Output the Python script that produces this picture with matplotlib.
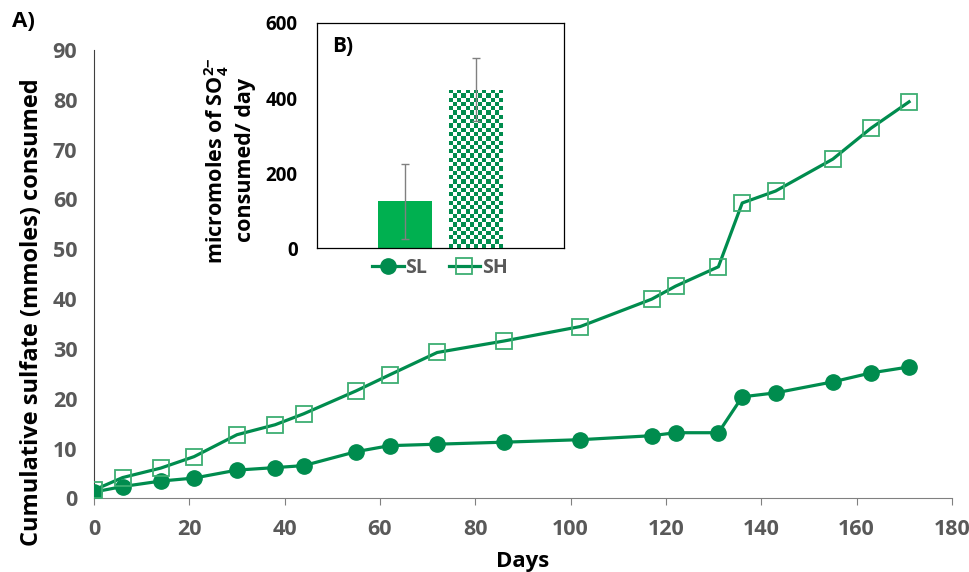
import matplotlib
matplotlib.use("Agg")
import matplotlib.pyplot as plt
import numpy as np
from matplotlib.lines import Line2D

# ---------------------------------------------------------------
# data
# ---------------------------------------------------------------
days = [0, 6, 14, 21, 30, 38, 44, 55, 62, 72, 86, 102, 117, 122, 131,
        136, 143, 155, 163, 171]
sl_cum = [1.3, 2.4, 3.5, 4.1, 5.7, 6.2, 6.6, 9.4, 10.6, 10.9, 11.3, 11.8,
          12.6, 13.2, 13.2, 20.4, 21.2, 23.4, 25.2, 26.4]
sh_cum = [1.7, 4.2, 6.1, 8.4, 12.8, 14.8, 17.0, 21.6, 24.8, 29.3, 31.6,
          34.5, 40.0, 42.6, 46.5, 59.3, 61.7, 68.1, 74.3, 79.6]

rate_labels = ["SL", "SH"]
rate_mean = [125, 422]
rate_err = [100, 84]

x_ticks = list(range(0, 181, 20))
y_ticks = list(range(0, 91, 10))
inset_ticks = [0, 200, 400, 600]

DARK = "#008C4E"
LIGHT = "#3DAE72"
BAR_GREEN = "#00B050"
GRAY = "#595959"

plt.rcParams.update({
    "font.family": ["Open Sans", "DejaVu Sans"],
    "font.weight": "bold",
    "mathtext.fontset": "custom",
    "mathtext.default": "bf",
    "mathtext.bf": "Open Sans:bold",
    "mathtext.rm": "Open Sans:bold",
})

fig = plt.figure(figsize=(9.7, 5.72), dpi=100)

# ---------------------------------------------------------------
# A) cumulative sulfate consumed
# ---------------------------------------------------------------
ax = fig.add_axes([0.0969, 0.1285, 0.8845, 0.7841])
ax.plot(days, sl_cum, color=DARK, lw=2.3, marker="o", ms=11,
        mfc=DARK, mec=DARK, zorder=3)
ax.plot(days, sh_cum, color=DARK, lw=2.3, marker="s", ms=11.5,
        mfc="none", mec=LIGHT, mew=1.3, zorder=3)

ax.set_xlim(0, 180)
ax.set_ylim(0, 90)
ax.set_xticks(x_ticks)
ax.set_yticks(y_ticks)
for s in ["top", "right"]:
    ax.spines[s].set_visible(False)
ax.spines["left"].set_color("#404040")
ax.spines["bottom"].set_color("#808080")
ax.tick_params(axis="y", length=0, pad=12, labelsize=15.5, labelcolor=GRAY)
ax.tick_params(axis="x", length=5, direction="out", color="#808080",
               pad=10, labelsize=15.5, labelcolor=GRAY)
ax.set_xlabel("Days", fontsize=16, fontweight="bold", labelpad=8)
ax.set_ylabel("Cumulative sulfate (mmoles) consumed", fontsize=17,
              fontweight="bold")
ax.yaxis.set_label_coords(-0.058, 0.416)
fig.text(0.012, 0.962, "A)", fontsize=16, fontweight="bold", va="center")

# ---------------------------------------------------------------
# B) inset: consumption rate
# ---------------------------------------------------------------
axi = fig.add_axes([0.3268, 0.5664, 0.2546, 0.3934])
xpos = np.arange(len(rate_labels))
bars = axi.bar(xpos, rate_mean, width=0.76, color=[BAR_GREEN, "white"],
               zorder=2)
axi.errorbar(xpos, rate_mean, yerr=rate_err, fmt="none", ecolor="#808080",
             elinewidth=1, capsize=3, capthick=1, zorder=4)

# checkerboard fill for SH bar, clipped to the bar itself
sh_bar = bars[1]
x0, y0 = sh_bar.get_x(), sh_bar.get_y()
w, h = sh_bar.get_width(), sh_bar.get_height()
nrow, ncol = 37, 13
checker = (np.indices((nrow, ncol)).sum(axis=0) % 2)
cmap = matplotlib.colors.ListedColormap([DARK, "white"])
im = axi.imshow(checker, cmap=cmap, extent=[x0, x0 + w, y0, y0 + h],
                interpolation="nearest", aspect="auto", zorder=3)
im.set_clip_path(sh_bar)

axi.set_xlim(-1.24, 2.24)
axi.set_ylim(0, 600)
axi.set_yticks(inset_ticks)
axi.set_xticks([])
axi.tick_params(axis="y", length=0, pad=14, labelsize=13.5, labelcolor="black")
for s in axi.spines.values():
    s.set_color("black")
    s.set_linewidth(0.9)
axi.set_ylabel("micromoles of SO$_4^{2\\mathbf{-}}$\nconsumed/ day",
               fontsize=15.5, fontweight="bold", linespacing=1.3)
axi.yaxis.set_label_coords(-0.245, 0.39)
axi.text(0.06, 0.94, "B)", transform=axi.transAxes, fontsize=15,
         fontweight="bold", va="top")

handles = [
    Line2D([], [], color=DARK, lw=2.3, marker="o", ms=11, mfc=DARK, mec=DARK),
    Line2D([], [], color=DARK, lw=2.3, marker="s", ms=11.5, mfc="none",
           mec=LIGHT, mew=1.3),
]
leg = fig.legend(handles, rate_labels, loc="center",
                 bbox_to_anchor=(440 / 970, 1 - 268 / 572), ncol=2,
                 frameon=False, handlelength=1.6, handletextpad=0.1,
                 columnspacing=1.1, prop={"size": 14, "weight": "bold"})
for t in leg.get_texts():
    t.set_color(GRAY)

fig.savefig("out.png", dpi=100)
